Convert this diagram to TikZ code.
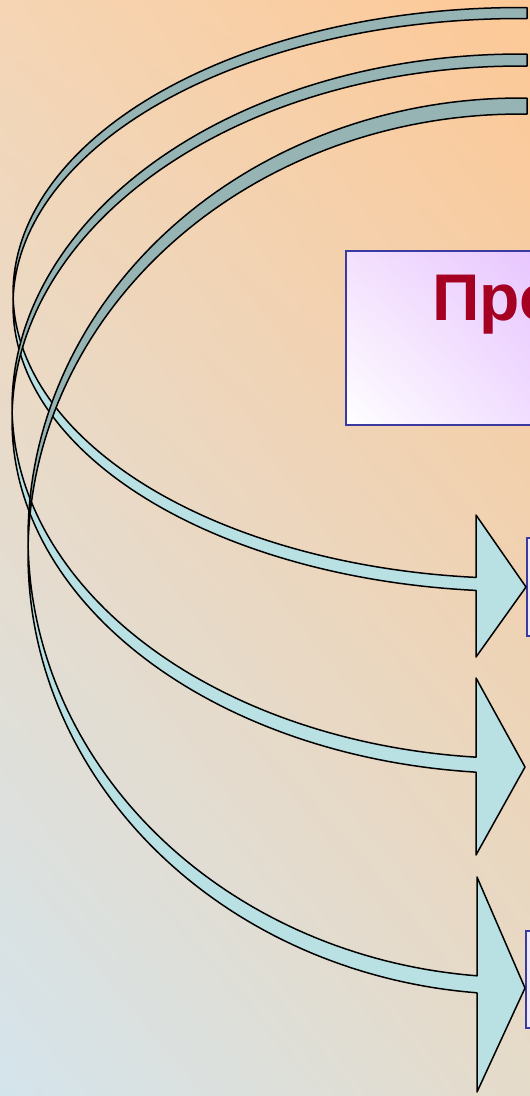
\documentclass[tikz,border=0pt]{standalone}
\usepackage{fontspec}
\setmainfont{Liberation Sans}
\usepackage{tikz}
\usetikzlibrary{positioning, shadings}

\definecolor{bgUR}{RGB}{253,200,150}
\definecolor{bgUL}{RGB}{245,213,180}
\definecolor{bgLL}{RGB}{212,228,236}
\definecolor{bgLR}{RGB}{229,219,202}
\definecolor{bandback}{RGB}{150,180,180}
\definecolor{bandfront}{RGB}{185,224,227}
\definecolor{boxblue}{RGB}{58,58,160}
\definecolor{titlered}{RGB}{165,0,33}
\definecolor{lilacA}{RGB}{243,224,253}
\definecolor{lilacB}{RGB}{230,194,255}
\definecolor{lilacC}{RGB}{239,216,255}
\definecolor{itemfill}{RGB}{238,234,250}

\tikzset{
  backband/.style={fill=bandback, draw=black, line width=1.5pt, line join=round},
  frontband/.style={fill=bandfront, draw=black, line width=1.5pt, line join=round},
  titlebox/.style={draw=boxblue, line width=1.6pt, upper left=lilacA, upper right=lilacB,
    lower left=white, lower right=lilacC, shade, rectangle, inner sep=0},
  itembox/.style={draw=boxblue, line width=1.6pt, fill=itemfill, rectangle, inner sep=0}
}

\begin{document}
\begin{tikzpicture}[x=1pt, y=-1pt]
    \useasboundingbox (0,0) rectangle (530,1096);
    \clip (0,0) rectangle (530,1096);
    % Background
    \shade[upper left=bgUL, upper right=bgUR, lower left=bgLL, lower right=bgLR] (0,0) rectangle (530,1096);

    % Nodes
    \node (title) [titlebox, anchor=north west, minimum width=220, minimum height=174] at (345,250) {};
    \node (titletext) [anchor=base west, text=titlered, inner sep=0, font=\fontsize{66}{79}\selectfont\bfseries] at (432,320) {Про};
    \node (item1) [itembox, anchor=north west, minimum width=40, minimum height=98] at (526,537) {};
    \node (item3) [itembox, anchor=north west, minimum width=40, minimum height=97] at (525,930) {};

    % Curved arrows (two equal ellipses shifted by the band width)
    \foreach \n/\cy/\rx/\ry/\wt/\wb/\hx/\hu/\hd/\tx/\ty in
      {1/299/507/286/11/13/476/515/657/526/587,
       2/413/508/353/12/15/476/678/855/525/767,
       3/546/492/440/16/17/477/877/1092/525/988}{
      \pgfmathsetmacro\te{acos((\hx-520)/\rx)}
      \pgfmathsetmacro\bA{-180-asin(\wt/(2*\ry))}
      \pgfmathsetmacro\bB{-180+asin(\wt/(2*\ry))}
      \pgfmathsetmacro\fA{180+asin(\wb/(2*\ry))}
      \pgfmathsetmacro\fB{180-asin(\wb/(2*\ry))}
      \coordinate (head\n) at (\tx,\ty);
      % back half
      \draw[backband] (527,{\cy-\ry-\wt/2})
        -- plot[domain=-90:\bA, samples=70] ({520+\rx*cos(\x)},{\cy-\wt/2+\ry*sin(\x)})
        -- plot[domain=\bB:-90, samples=70] ({520+\rx*cos(\x)},{\cy+\wt/2+\ry*sin(\x)})
        -- (527,{\cy-\ry+\wt/2}) -- cycle;
      % front half and head
      \draw[frontband] plot[domain=\fA:\te, samples=70] ({520+\rx*cos(\x)},{\cy+\wb/2+\ry*sin(\x)})
        -- (\hx,\hd) -- (head\n) -- (\hx,\hu)
        -- plot[domain=\te:\fB, samples=70] ({520+\rx*cos(\x)},{\cy-\wb/2+\ry*sin(\x)})
        -- cycle;
    }
\end{tikzpicture}
\end{document}
